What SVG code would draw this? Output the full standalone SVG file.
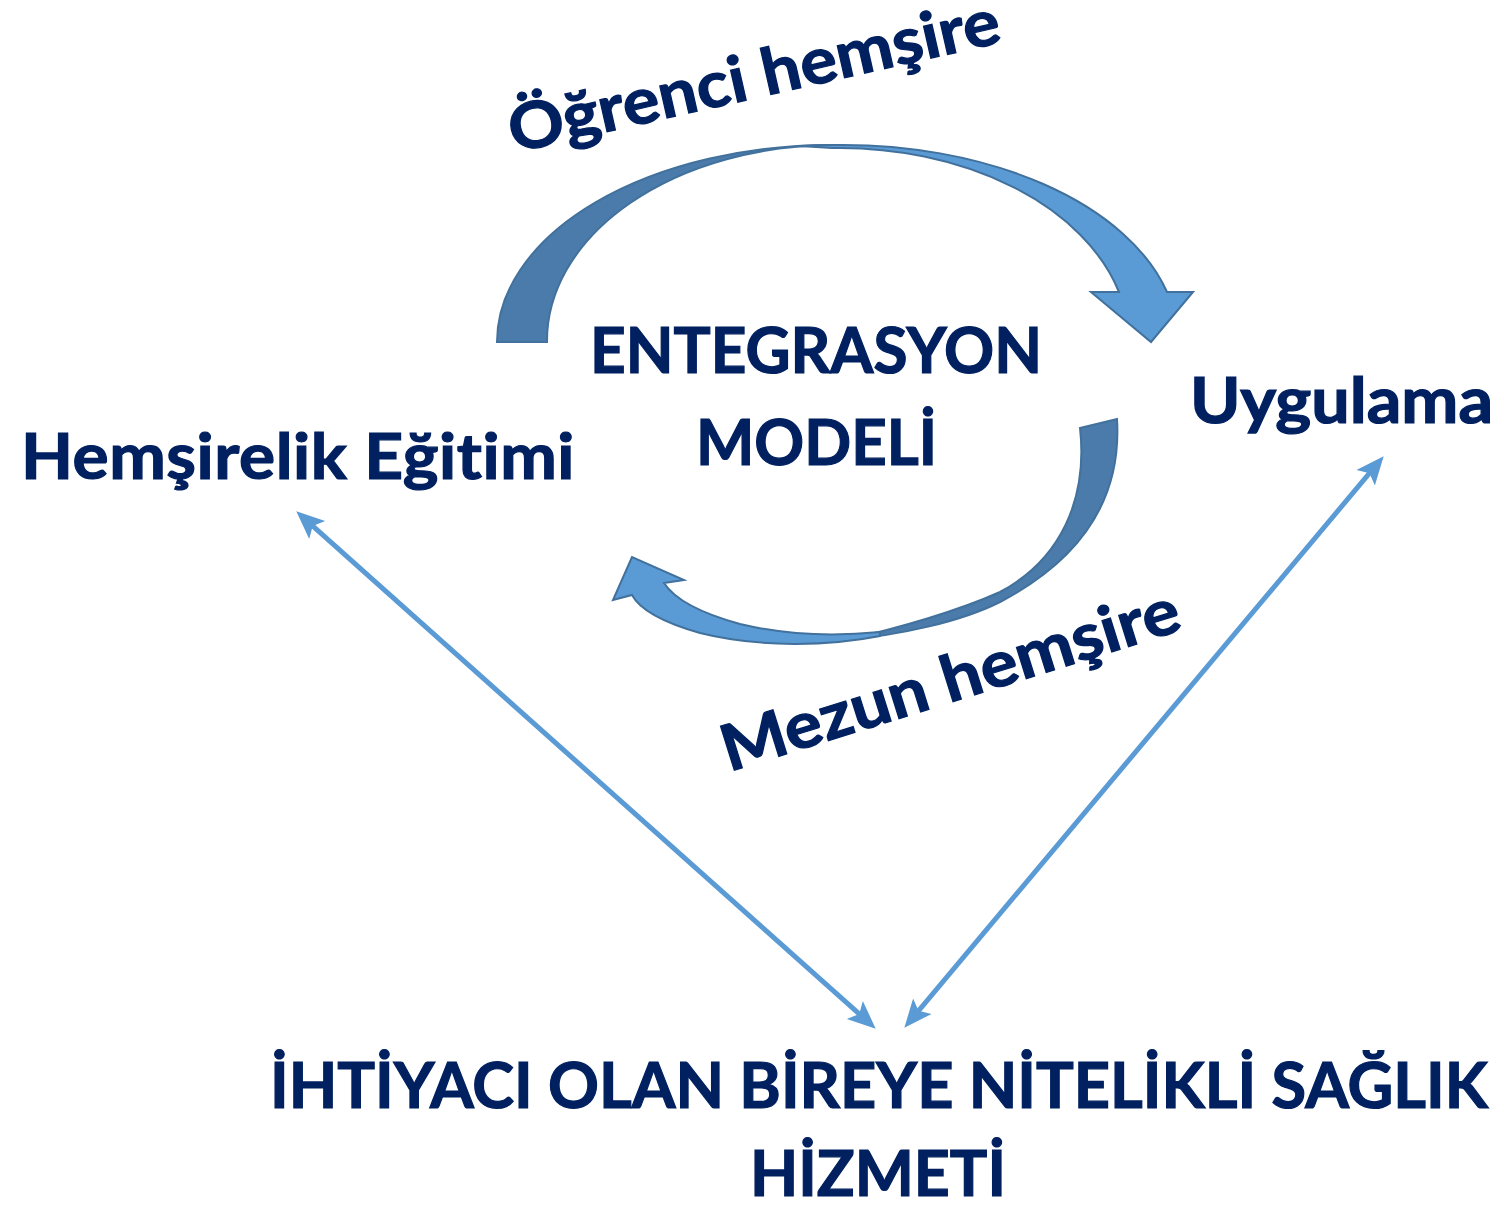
<svg xmlns="http://www.w3.org/2000/svg" width="1504" height="1205" viewBox="0 0 1504 1205">
<style>
.t{font-family:Lato,"Open Sans","Liberation Sans",sans-serif;font-weight:bold;font-size:64px;fill:#002060;stroke:#002060;stroke-width:1.2;font-variant-ligatures:none;font-feature-settings:"liga" 0,"clig" 0,"dlig" 0,"calt" 0}
.nolig{letter-spacing:0.5px}
.dark{fill:#4A7BAB;stroke:#41719C;stroke-width:2;stroke-linejoin:miter}
.light{fill:#5B9BD5;stroke:#41719C;stroke-width:2;stroke-linejoin:miter}
.conn{stroke:#5B9BD5;stroke-width:5;fill:none}
</style>
<defs>
<marker id="ah" markerUnits="userSpaceOnUse" markerWidth="32" markerHeight="28" refX="17" refY="13" orient="auto-start-reverse">
<path d="M0,1 L28,13 L0,25 L6,13 Z" fill="#5B9BD5"/>
</marker>
</defs>
<rect width="1504" height="1205" fill="#FFFFFF"/>
<g id="top-curved-arrow">
<path class="dark" d="M497,342 A335,197 0 0 1 832,145 A287,196 0 0 0 547,342 Z"/>
<path class="light" d="M800,146 A335,197 0 0 1 832,145 A335,197 0 0 1 1167,292 L1193,292 L1151,342 L1091,292 L1119,292 A290,196 0 0 0 832,148 Z"/>
</g>
<g id="bottom-curved-arrow">
<path class="dark" d="M1080,428 L1117,419 C1122,500 1080,560 1000,602 C960,622 900,635 845,640 C900,628 960,610 1000,592 C1060,560 1088,500 1080,428 Z"/>
<path class="light" d="M880,636 C830,646 760,648 700,633 C665,623 640,610 632,595 L613,600 L632,557 L684,580 L664,583 C675,600 700,613 740,624 C790,636 840,636 880,632 Z"/>
</g>
<g id="connectors">
<line class="conn" x1="304.5" y1="518.7" x2="867.5" y2="1021.3" marker-start="url(#ah)" marker-end="url(#ah)"/>
<line class="conn" x1="1376.6" y1="464.7" x2="911.4" y2="1019.3" marker-start="url(#ah)" marker-end="url(#ah)"/>
</g>
<g id="label-ogrenci">
<text class="t" transform="translate(514,153) rotate(-12.8)" textLength="502" lengthAdjust="spacingAndGlyphs">Öğrenci hemşire</text>
</g>
<g id="label-mezun">
<text class="t" transform="translate(729,772) rotate(-17.4)" textLength="477" lengthAdjust="spacingAndGlyphs">Mezun hemşire</text>
</g>
<g id="node-center">
<text class="t" x="590" y="373" textLength="452" lengthAdjust="spacingAndGlyphs">ENTEGRASYON</text>
<text class="t" x="696" y="465" textLength="241" lengthAdjust="spacingAndGlyphs">MODELİ</text>
</g>
<g id="node-egitim">
<text class="t nolig" x="21" y="479" textLength="554" lengthAdjust="spacingAndGlyphs">Hemşirelik Eğitimi</text>
</g>
<g id="node-uygulama">
<text class="t" x="1190" y="423" textLength="303" lengthAdjust="spacingAndGlyphs">Uygulama</text>
</g>
<g id="node-hizmet">
<text class="t" x="270" y="1108" textLength="1218" lengthAdjust="spacingAndGlyphs">İHTİYACI OLAN BİREYE NİTELİKLİ SAĞLIK</text>
<text class="t" x="750" y="1196" textLength="256" lengthAdjust="spacingAndGlyphs">HİZMETİ</text>
</g>
</svg>
